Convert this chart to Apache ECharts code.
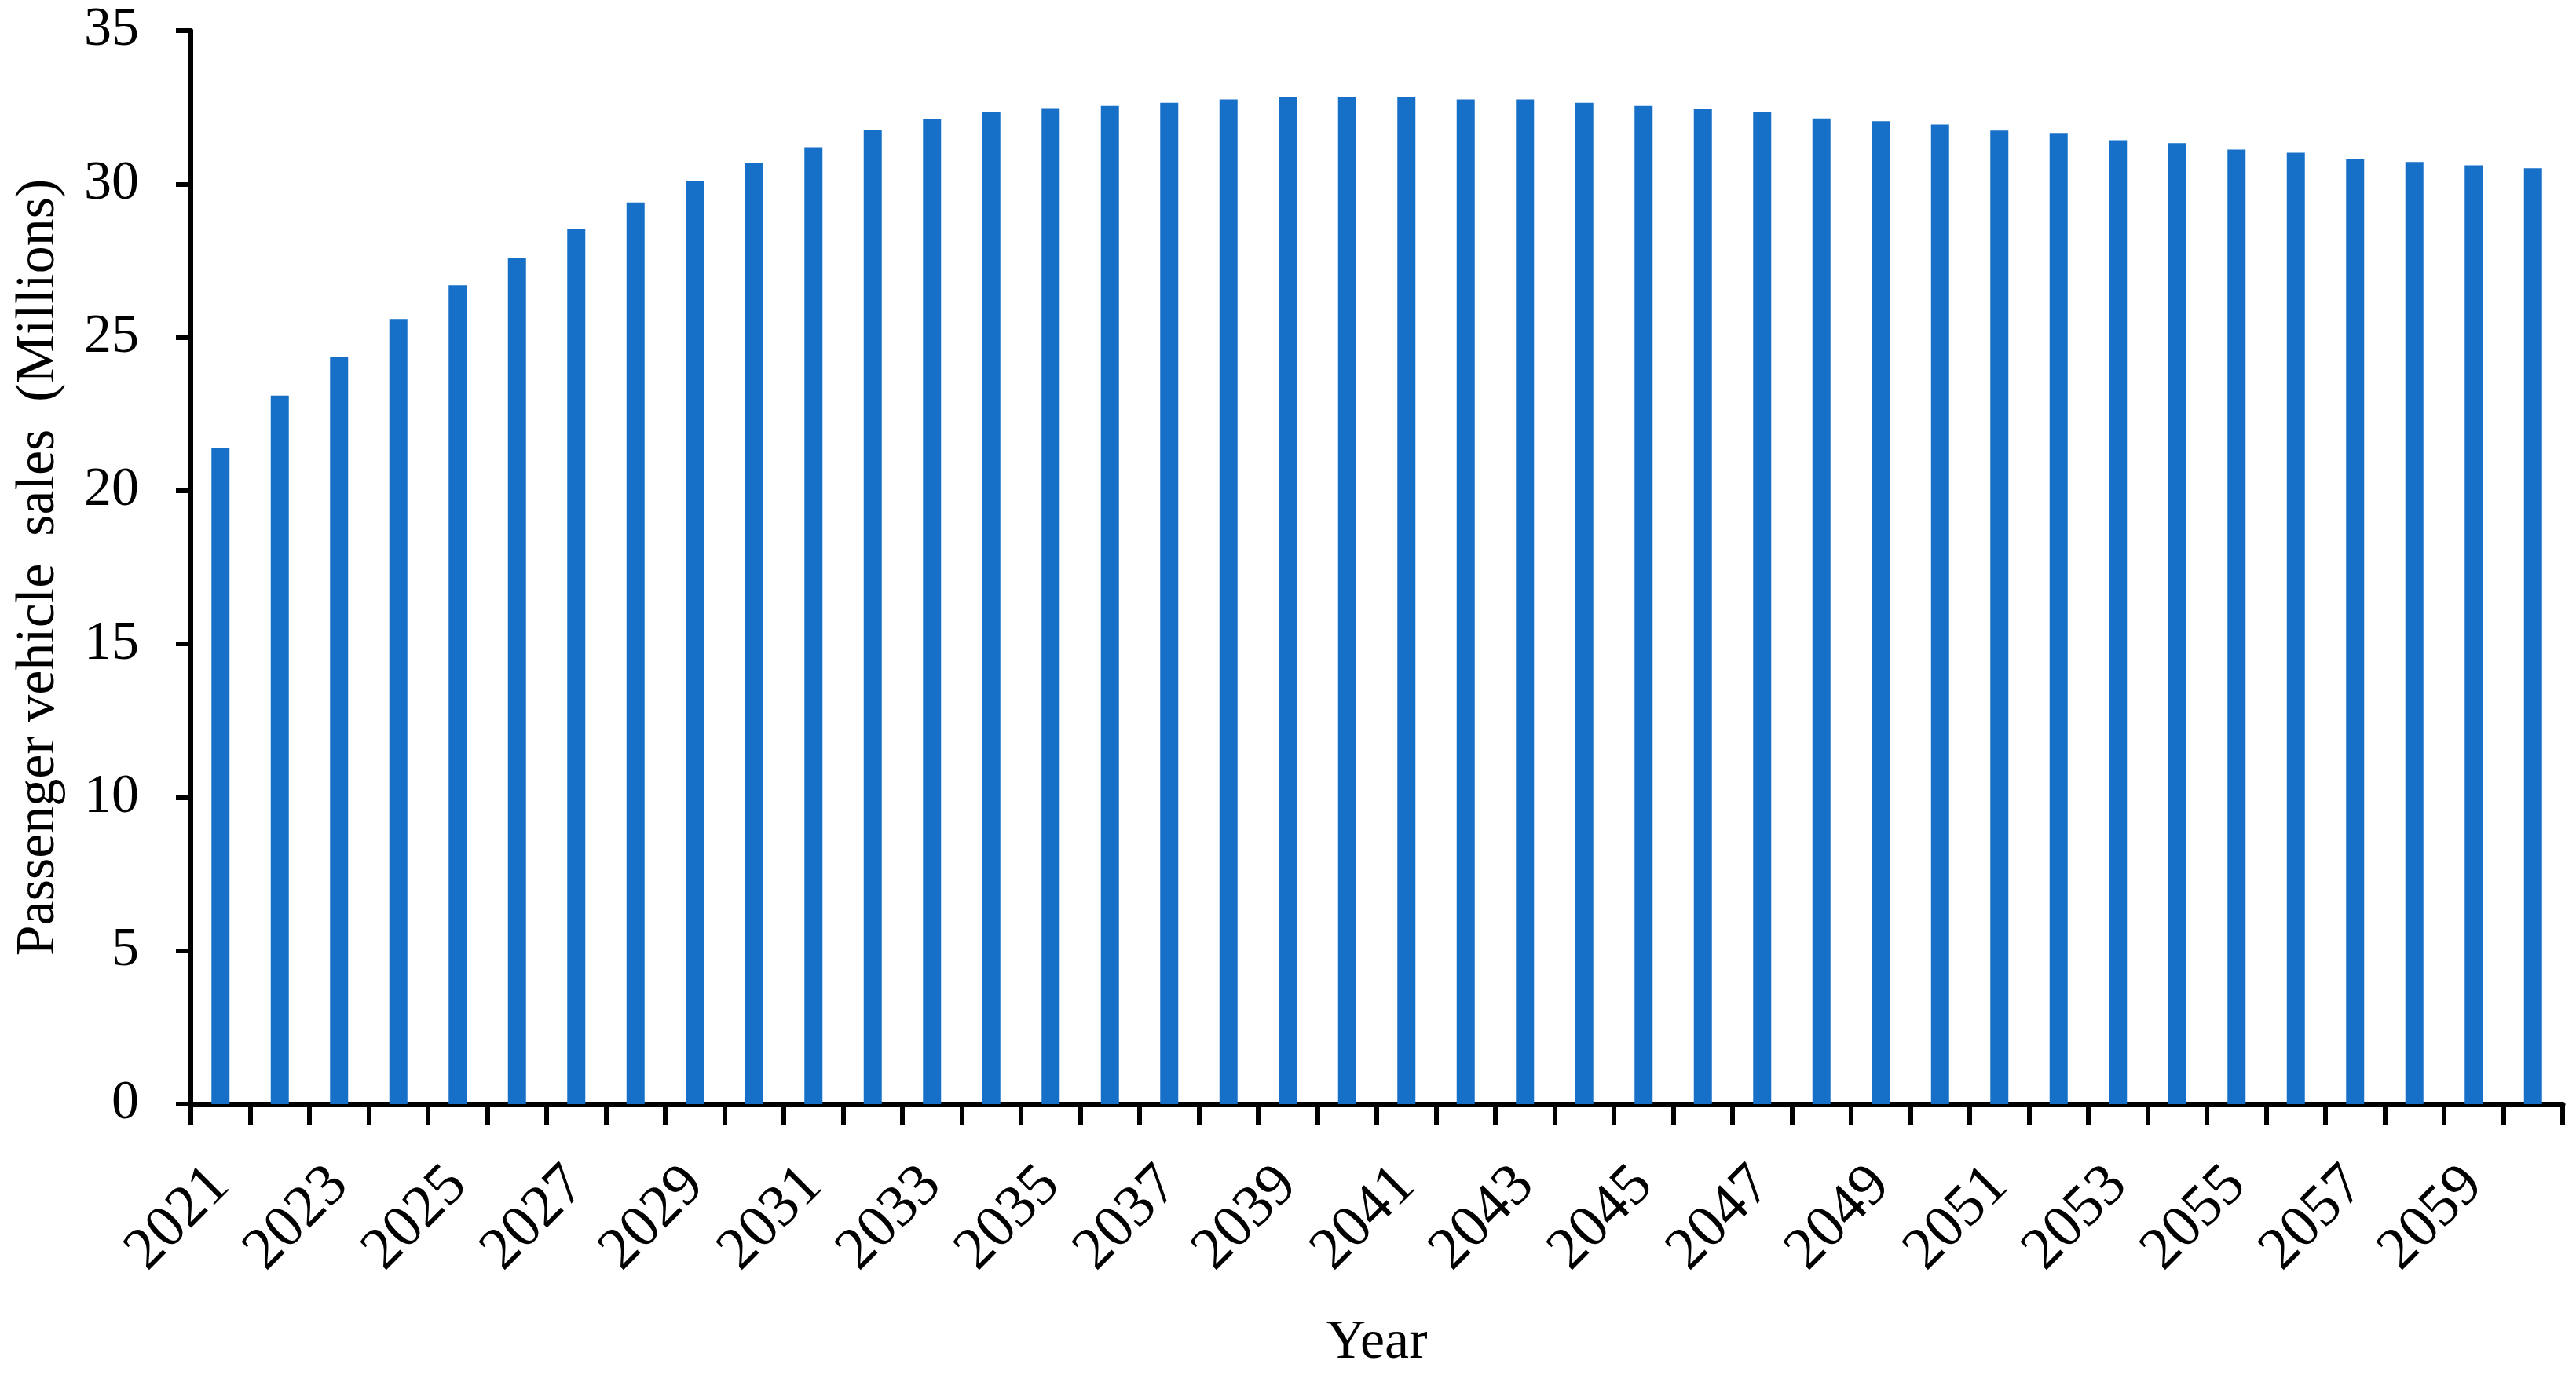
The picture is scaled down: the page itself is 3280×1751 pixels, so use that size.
<!DOCTYPE html>
<html>
<head>
<meta charset="utf-8">
<script src="https://cdn.jsdelivr.net/npm/echarts@6/dist/echarts.min.js"></script>
<style>
  html, body { margin: 0; padding: 0; background: #fff; }
  #chart { width: 3280px; height: 1751px; }
</style>
</head>
<body>
<div id="chart"></div>
<script>
// years 2021..2060
const years = ['2021', '2022', '2023', '2024', '2025', '2026', '2027', '2028', '2029', '2030',
  '2031', '2032', '2033', '2034', '2035', '2036', '2037', '2038', '2039', '2040',
  '2041', '2042', '2043', '2044', '2045', '2046', '2047', '2048', '2049', '2050',
  '2051', '2052', '2053', '2054', '2055', '2056', '2057', '2058', '2059', '2060']

// passenger vehicle sales, millions
const sales = [21.4, 23.1, 24.35, 25.6, 26.7, 27.6, 28.55, 29.4, 30.1, 30.7,
  31.2, 31.75, 32.13, 32.34, 32.45, 32.55, 32.65, 32.76, 32.85, 32.85,
  32.85, 32.76, 32.76, 32.65, 32.55, 32.44, 32.35, 32.14, 32.05, 31.94,
  31.74, 31.64, 31.43, 31.33, 31.12, 31.02, 30.82, 30.72, 30.61, 30.51]

const yTicks = { min: 0, max: 35, interval: 5 }

const font = 'Liberation Serif'
const chart = echarts.init(document.getElementById('chart'))

chart.setOption({
  animation: false,
  backgroundColor: '#fff',
  grid: { left: 243, right: 17, top: 39, bottom: 340 },
  xAxis: {
    type: 'category',
    data: years,
    name: 'Year',
    nameLocation: 'middle',
    nameGap: 270,
    nameTextStyle: { fontFamily: font, fontSize: 70, color: '#000' },
    axisLine: { lineStyle: { color: '#000', width: 7 } },
    axisTick: { show: true, interval: 0, length: 27, lineStyle: { color: '#000', width: 6 } },
    axisLabel: {
      interval: 1,
      rotate: 45,
      margin: 92,
      fontFamily: font,
      fontSize: 76,
      color: '#000'
    }
  },
  yAxis: {
    type: 'value',
    min: yTicks.min,
    max: yTicks.max,
    interval: yTicks.interval,
    name: 'Passenger vehicle  sales  (Millions)',
    nameLocation: 'middle',
    nameGap: 158,
    nameTextStyle: { fontFamily: font, fontSize: 70, color: '#000' },
    splitLine: { show: false },
    axisLine: { show: true, lineStyle: { color: '#000', width: 6 } },
    axisTick: { show: true, length: 19, lineStyle: { color: '#000', width: 6 } },
    axisLabel: { margin: 66, fontFamily: font, fontSize: 70, color: '#000' }
  },
  series: [{
    type: 'bar',
    data: sales,
    barWidth: 23,
    itemStyle: { color: '#1670c8' }
  }]
})
</script>
</body>
</html>
